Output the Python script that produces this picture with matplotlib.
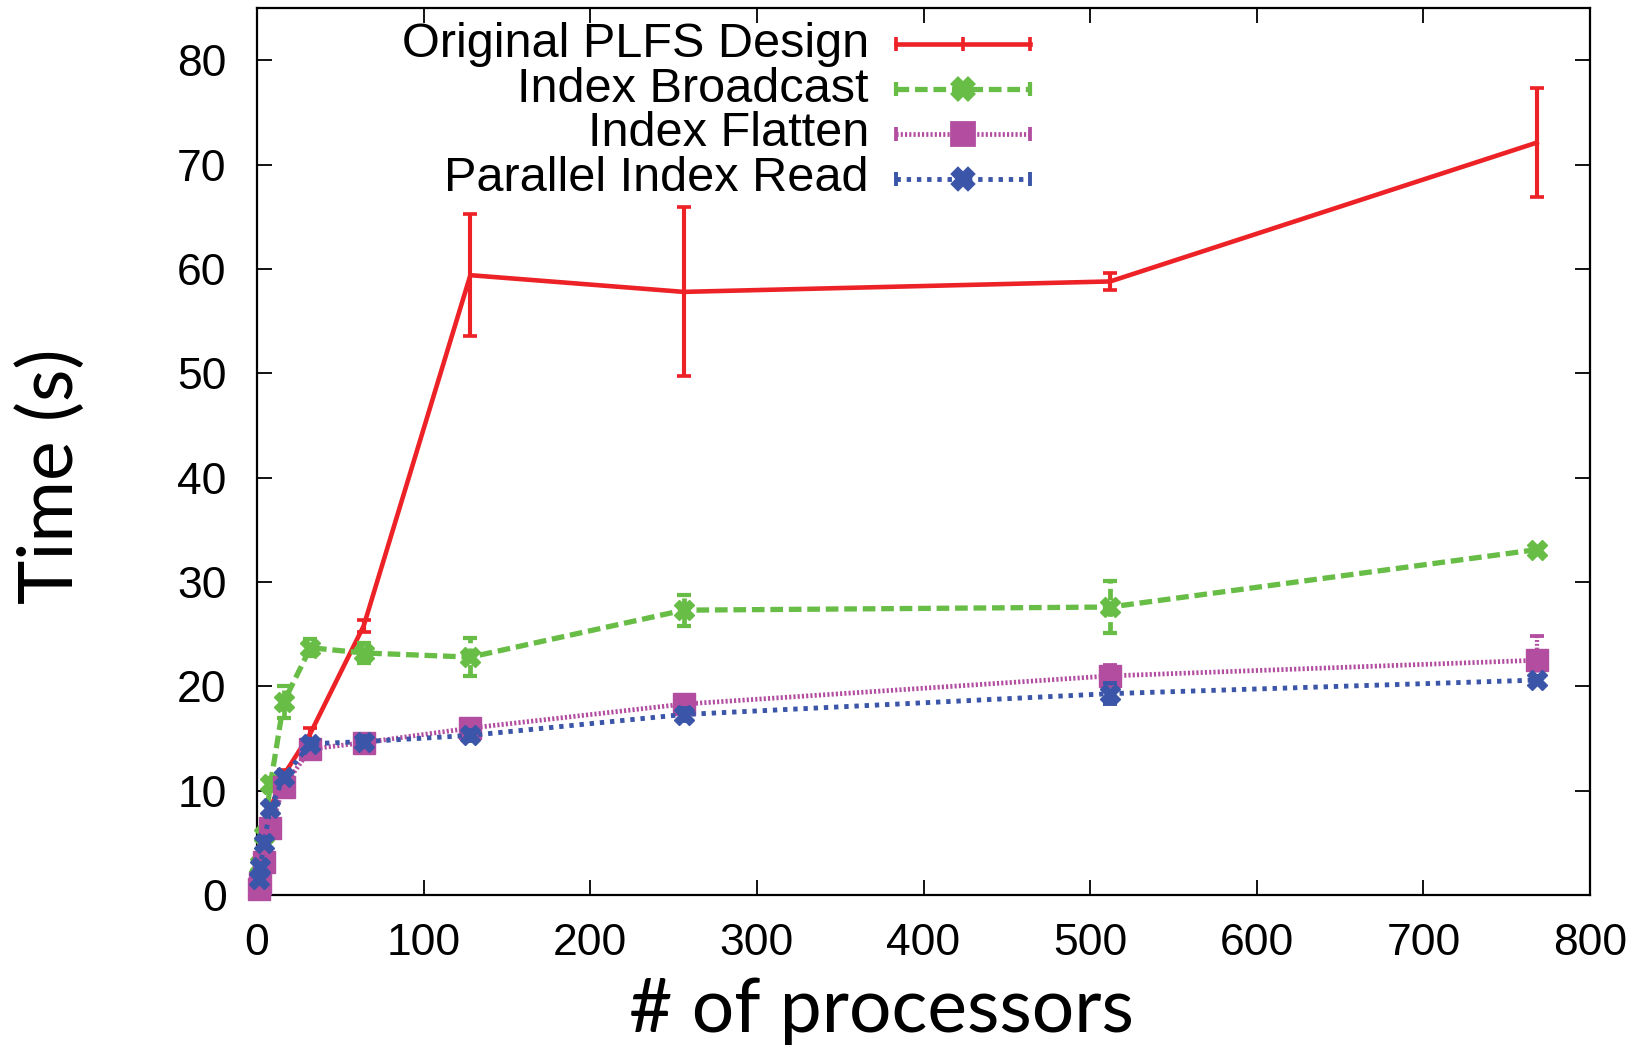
import matplotlib.pyplot as plt
from matplotlib.lines import Line2D

procs = [1, 2, 4, 8, 16, 32, 64, 128, 256, 512, 768]

orig = [1.0, 2.2, 4.5, 8.3, 11.5, 15.5, 25.8, 59.4, 57.8, 58.8, 72.1]
orig_err = [0.3, 0.3, 0.3, 0.4, 0.5, 0.5, 0.6, 5.85, 8.1, 0.8, 5.25]

bcast = [1.8, 3.0, 5.8, 10.6, 18.5, 23.7, 23.2, 22.8, 27.3, 27.6, 33.1]
bcast_err = [0.4, 0.4, 0.5, 0.6, 1.5, 0.8, 1.0, 1.8, 1.5, 2.5, 0.3]

flat = [0.6, 1.2, 3.2, 6.4, 10.4, 14.0, 14.6, 16.0, 18.3, 21.0, 22.5]
flat_err = [0.3, 0.3, 0.4, 0.4, 0.5, 0.5, 0.5, 0.5, 0.6, 1.0, 2.3]

par = [1.5, 2.7, 5.0, 8.3, 11.3, 14.5, 14.7, 15.3, 17.3, 19.3, 20.6]
par_err = [0.3, 0.3, 0.4, 0.4, 0.4, 0.5, 0.5, 0.5, 0.6, 1.0, 0.4]

labels = ["Original PLFS Design", "Index Broadcast", "Index Flatten", "Parallel Index Read"]
colors = ["#ec2227", "#67bd45", "#b24da0", "#3b55a8"]
styles = ["-", (0, (2.4, 1.1)), (0, (0.45, 0.45)), (0, (0.9, 1.2))]
widths = [3.3, 3.8, 3.4, 3.5]
markers = ["none", "X", "s", "X"]
msizes = [0, 14, 16, 14]

fig = plt.figure(figsize=(16.48, 10.45), dpi=100)
ax = fig.add_axes([0.156, 0.1435, 0.8088, 0.8488])

data = [(orig, orig_err), (bcast, bcast_err), (flat, flat_err), (par, par_err)]
for i, (y, err) in enumerate(data):
    eb = ax.errorbar(procs, y, yerr=err, color=colors[i], lw=widths[i], ls=styles[i],
                     marker=markers[i], ms=msizes[i], capsize=5, capthick=widths[i] * 0.8,
                     elinewidth=widths[i] * 0.9, clip_on=False, zorder=3 + i)
    for ln in eb.lines[2]:
        ln.set_linestyle(styles[i])
        ln.set_clip_on(False)
    for c in eb.lines[1]:
        c.set_clip_on(False)

ax.set_xlim(0, 800)
ax.set_ylim(0, 85)
ax.set_xticks(range(0, 801, 100))
ax.set_yticks(range(0, 81, 10))
ax.tick_params(direction="in", length=11, width=1.3, top=True, right=True, labelsize=32)
ax.tick_params(axis="x", pad=20)
ax.tick_params(axis="y", pad=22)
for t in ax.get_xticklabels() + ax.get_yticklabels():
    t.set_family("Liberation Sans")
for s in ax.spines.values():
    s.set_linewidth(1.6)

fig.text(0.031, 0.5445, "Time (s)", rotation=90, ha="center", va="center",
         fontsize=54, family="Lato")
fig.text(0.535, 0.012, "# of processors", ha="center", va="baseline",
         fontsize=54, family="Lato")

# legend, gnuplot style: right-aligned text, sample on the right
x0, x1 = 0.479, 0.580
for i, lab in enumerate(labels):
    yy = 0.9594 - i * 0.0507
    ax.text(0.459, yy, lab, transform=ax.transAxes, ha="right", va="center",
            fontsize=35, family="Liberation Sans")
    ax.add_line(Line2D([x0, x1], [yy, yy], transform=ax.transAxes, color=colors[i],
                       lw=widths[i], ls=styles[i], clip_on=False))
    ax.add_line(Line2D([x0, x1], [yy, yy], transform=ax.transAxes, color=colors[i],
                       ls="none", marker="|", ms=10, mew=widths[i] * 0.8, clip_on=False))
    mk = markers[i] if markers[i] != "none" else "|"
    ax.add_line(Line2D([(x0 + x1) / 2], [yy], transform=ax.transAxes, color=colors[i],
                       ls="none", marker=mk, ms=msizes[i] if msizes[i] else 10,
                       mew=widths[i] * 0.8, clip_on=False))

fig.savefig("out.png", dpi=100)
